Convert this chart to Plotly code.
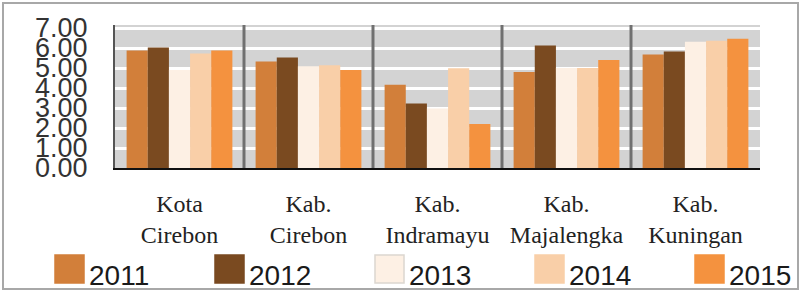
import plotly.graph_objects as go

categories = ["Kota<br>Cirebon", "Kab.<br>Cirebon", "Kab.<br>Indramayu", "Kab.<br>Majalengka", "Kab.<br>Kuningan"]
years = ["2011", "2012", "2013", "2014", "2015"]
v2011 = [5.87, 5.33, 4.16, 4.80, 5.68]
v2012 = [6.02, 5.53, 3.23, 6.12, 5.82]
v2013 = [4.90, 5.09, 2.98, 5.00, 6.31]
v2014 = [5.73, 5.14, 4.99, 5.00, 6.36]
v2015 = [5.87, 4.90, 2.20, 5.40, 6.46]
series = [v2011, v2012, v2013, v2014, v2015]
colors = ["#d27f3a", "#7a4a20", "#fdf0e4", "#f9cfa8", "#f4923f"]
y_ticks = [0, 1, 2, 3, 4, 5, 6, 7]

W, H = 800, 291
L, R, T, B = 115, 40, 25, 123
PW, PH = W - L - R, H - T - B

def px(x):
    return (x - L) / PW

def py(y):
    return (H - B - y) / PH

fig = go.Figure()
for name, vals, col in zip(years, series, colors):
    fig.add_trace(go.Bar(
        x=categories, y=vals, name=name,
        marker=dict(color=col, line=dict(width=0)),
        showlegend=False,
    ))

shapes = []
# category separators
for i in range(len(categories) - 1):
    shapes.append(dict(type="line", xref="x", yref="y", x0=i + 0.5, x1=i + 0.5,
                       y0=0, y1=7.15, line=dict(color="#707070", width=3), layer="above"))
# outer frame
shapes.append(dict(type="rect", xref="paper", yref="paper",
                   x0=px(3), x1=px(798), y0=py(289), y1=py(3),
                   line=dict(color="#a8a8a8", width=2), fillcolor="rgba(0,0,0,0)"))

annotations = []
# custom legend
for i, (name, col) in enumerate(zip(years, colors)):
    x0 = 55 + 160 * i
    shapes.append(dict(type="rect", xref="paper", yref="paper",
                       x0=px(x0), x1=px(x0 + 29), y0=py(283), y1=py(255),
                       fillcolor=col,
                       line=dict(color="#dcd6d0" if name == "2013" else col, width=1.5)))
    annotations.append(dict(xref="paper", yref="paper", x=px(x0 + 32), y=py(275),
                            text=name, showarrow=False, xanchor="left", yanchor="middle",
                            font=dict(family="Liberation Sans", size=28, color="#1a1a1a")))

fig.update_layout(
    width=W, height=H,
    margin=dict(l=L, r=R, t=T, b=B),
    paper_bgcolor="white",
    plot_bgcolor="#d3d3d3",
    barmode="group",
    bargap=0.18,
    bargroupgap=0,
    showlegend=False,
    shapes=shapes,
    annotations=annotations,
    xaxis=dict(
        showgrid=False,
        showline=True, linecolor="#111111", linewidth=2,
        ticks="", ticklabelstandoff=13,
        tickfont=dict(family="Liberation Serif", size=24, color="#222222"),
    ),
    yaxis=dict(
        range=[0, 7.15],
        tickvals=y_ticks,
        tickformat=".2f",
        showgrid=True, gridcolor="#ffffff", gridwidth=3,
        zeroline=False,
        showline=True, linecolor="#555555", linewidth=2,
        ticks="", ticklabelstandoff=20,
        tickfont=dict(family="Liberation Sans", size=27, color="#333333"),
    ),
)

fig.write_html("out.html")
